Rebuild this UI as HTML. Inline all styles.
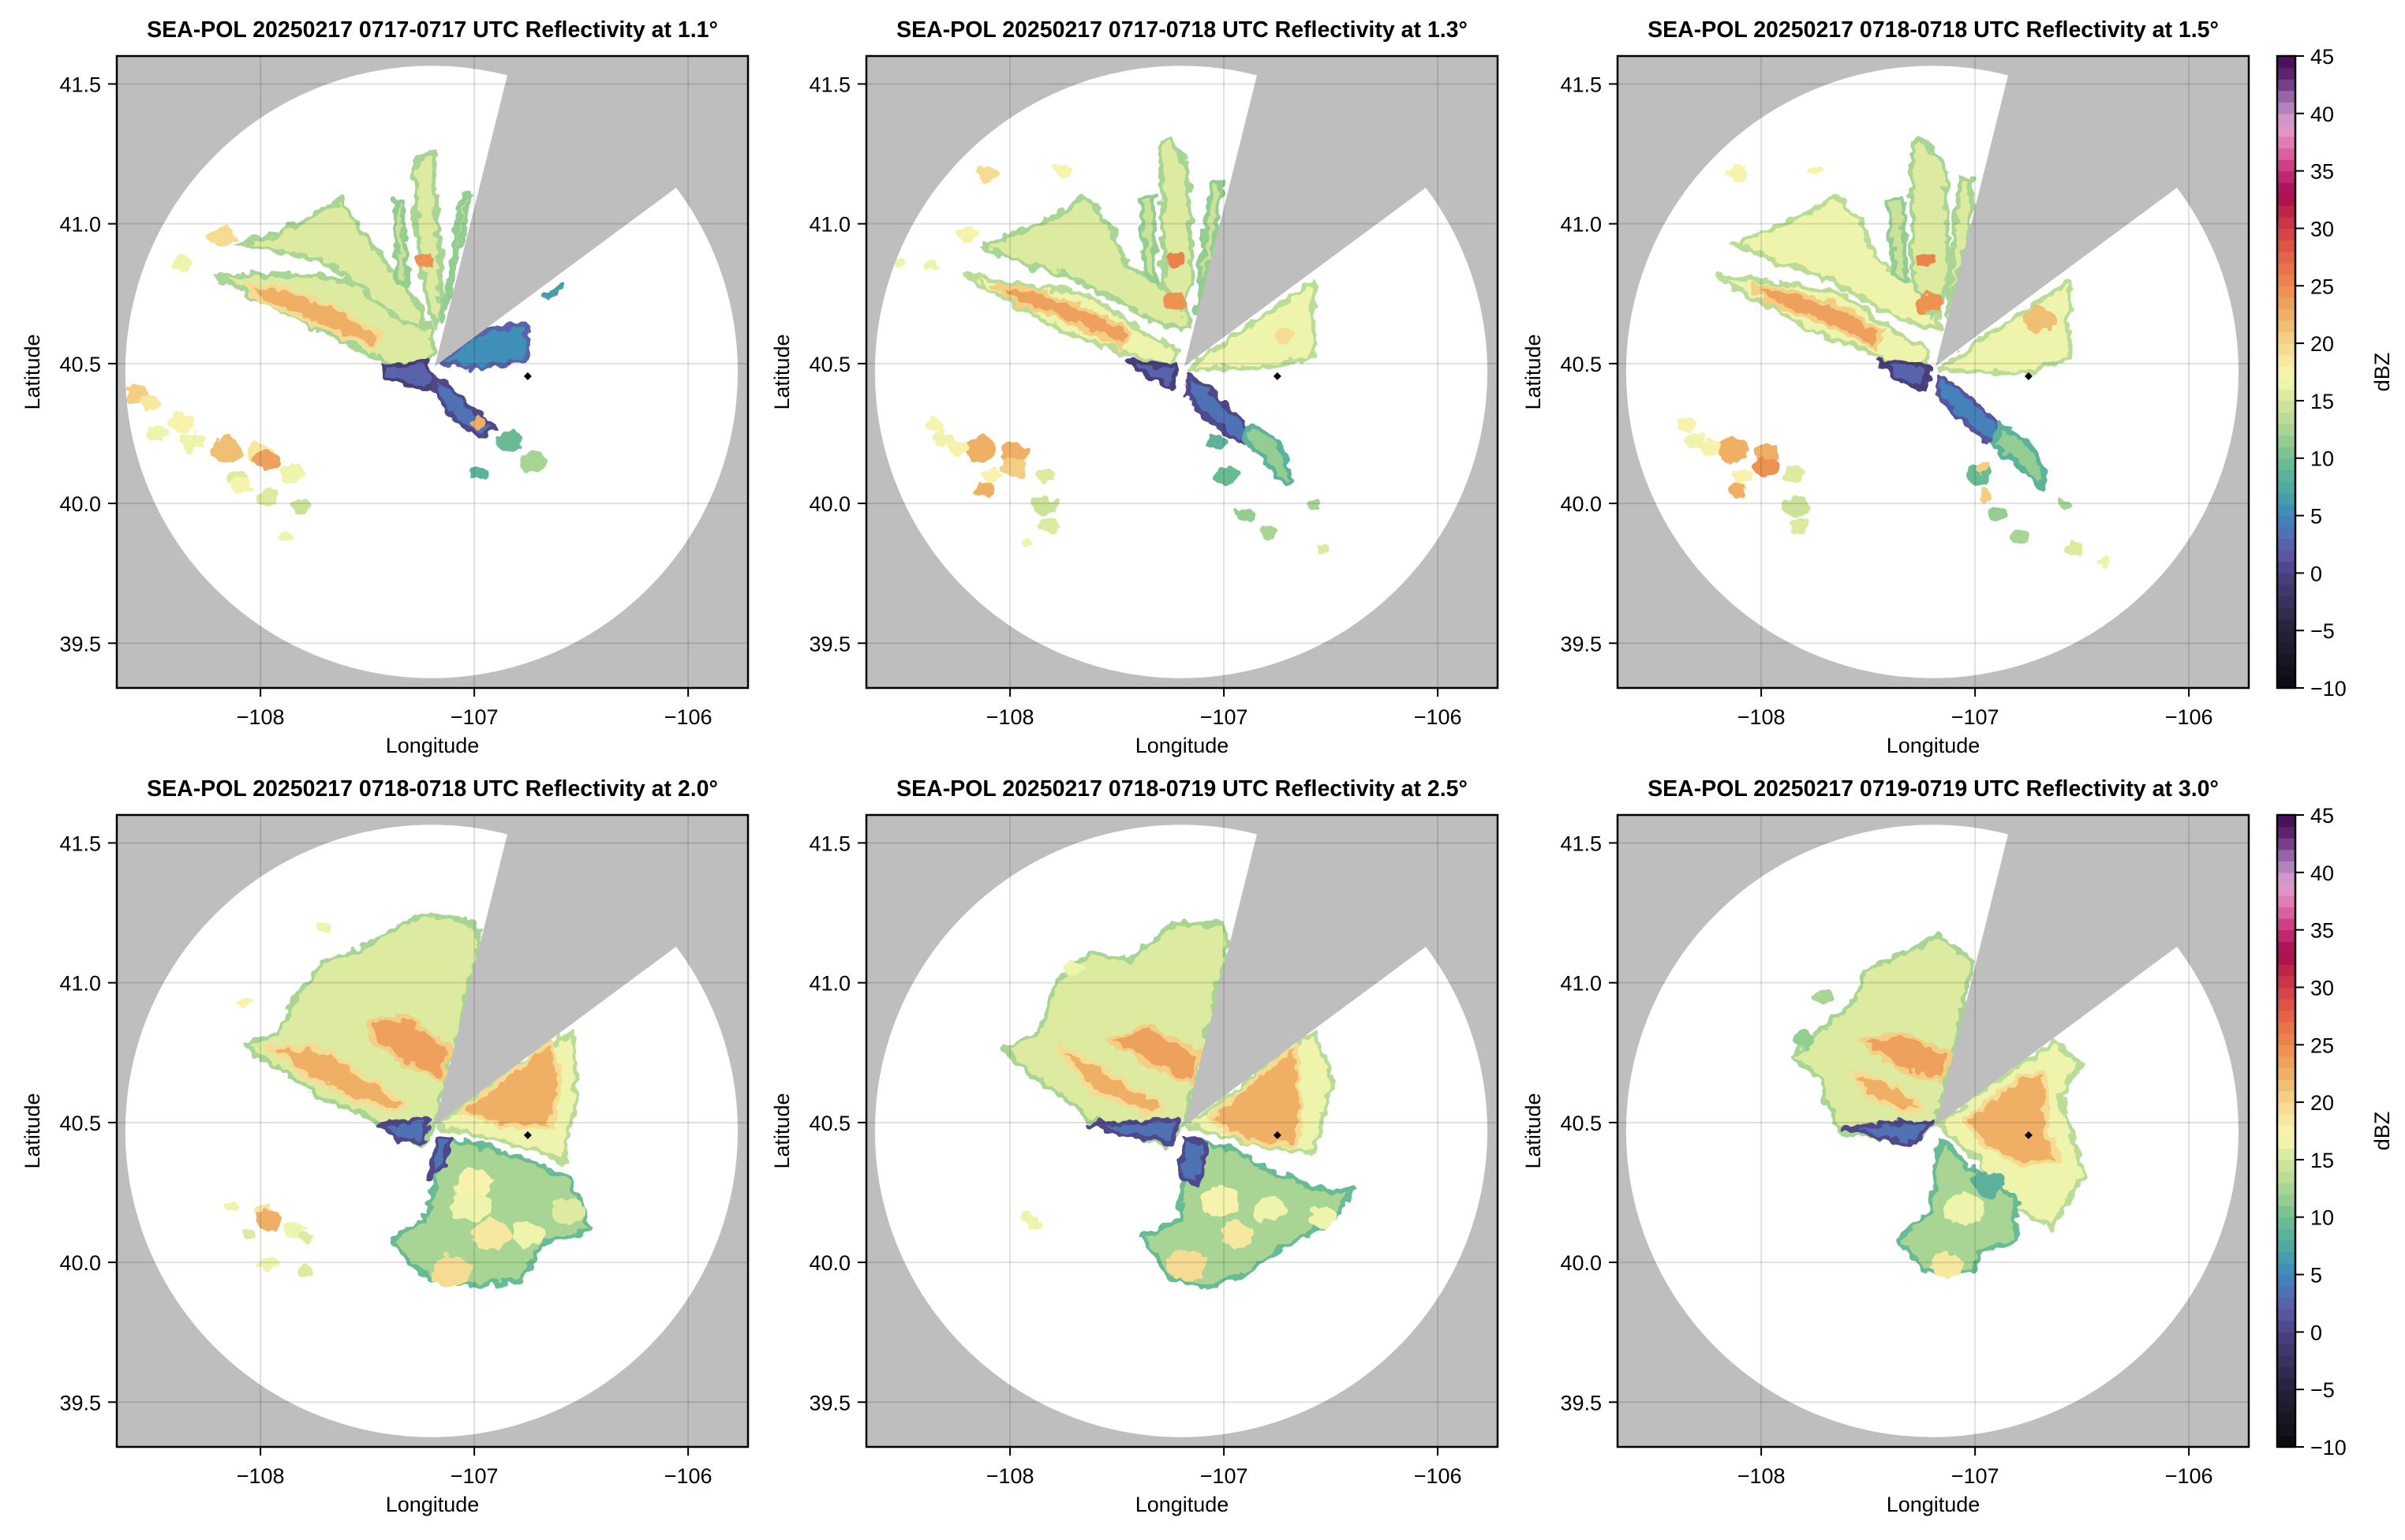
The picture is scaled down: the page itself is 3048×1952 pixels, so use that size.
<!DOCTYPE html>
<html><head><meta charset="utf-8"><title>SEA-POL Reflectivity</title>
<style>
html,body{margin:0;padding:0;background:#fff}
svg{display:block}
text{font-family:"Liberation Sans",Arial,sans-serif;fill:#000}
</style></head>
<body>
<svg id="fig" xmlns="http://www.w3.org/2000/svg" width="3048" height="1952" viewBox="0 0 3048 1952">
<defs>
<filter id="rag" x="-20%" y="-20%" width="140%" height="140%">
<feTurbulence type="fractalNoise" baseFrequency="0.07" numOctaves="2" seed="3" result="n"/>
<feDisplacementMap in="SourceGraphic" in2="n" scale="16" xChannelSelector="R" yChannelSelector="G"/>
</filter>
</defs>
</svg>
<script>
// ---- axis extents ----
const lonMin=-108.672, lonMax=-105.72, latMin=39.34, latMax=41.6;
const xTicks=[-108,-107,-106];
const xTickLabels=["\u2212108","\u2212107","\u2212106"];
const yTicks=[39.5,40.0,40.5,41.0,41.5];
const yTickLabels=["39.5","40.0","40.5","41.0","41.5"];
const cbTicks=[-10,-5,0,5,10,15,20,25,30,35,40,45];
const cbTickLabels=["\u221210","\u22125","0","5","10","15","20","25","30","35","40","45"];
const titles=[
"SEA-POL 20250217 0717-0717 UTC Reflectivity at 1.1\u00b0",
"SEA-POL 20250217 0717-0718 UTC Reflectivity at 1.3\u00b0",
"SEA-POL 20250217 0718-0718 UTC Reflectivity at 1.5\u00b0",
"SEA-POL 20250217 0718-0718 UTC Reflectivity at 2.0\u00b0",
"SEA-POL 20250217 0718-0719 UTC Reflectivity at 2.5\u00b0",
"SEA-POL 20250217 0719-0719 UTC Reflectivity at 3.0\u00b0"];
// radar coverage
const coverCenter=[-107.20,40.47];
const coverRadiusDeg=[1.432,1.095];
const radarApex=[-107.185,40.49];
const blockedAz=[14,53.5];
const siteMarker=[-106.75,40.455];

// ---- panel 1 (1.1) ----
const p1ShapeDbz=[15,22,15,15,14,14,5,9,2,3];
const p1Shapes=[
[[-108.21,40.82],[-107.81,40.82],[-107.57,40.79],[-107.43,40.72],[-107.22,40.65],[-107.19,40.54],[-107.27,40.46],[-107.43,40.51],[-107.69,40.61],[-107.85,40.67],[-108.11,40.77]],
[[-108.07,40.78],[-107.90,40.77],[-107.62,40.69],[-107.43,40.60],[-107.48,40.56],[-107.71,40.63],[-108.00,40.73]],
[[-108.11,40.93],[-107.90,40.97],[-107.71,41.05],[-107.62,41.09],[-107.52,40.96],[-107.38,40.83],[-107.27,40.72],[-107.22,40.63],[-107.34,40.65],[-107.52,40.76],[-107.71,40.87],[-107.90,40.90]],
[[-107.28,41.23],[-107.19,41.26],[-107.17,40.99],[-107.15,40.69],[-107.19,40.63],[-107.24,40.79],[-107.27,40.99]],
[[-107.05,41.11],[-107.02,41.11],[-107.10,40.79],[-107.15,40.65]],
[[-107.37,41.08],[-107.34,41.08],[-107.31,40.79],[-107.36,40.79]],
[[-107.15,40.51],[-107.01,40.60],[-106.88,40.63],[-106.75,40.64],[-106.76,40.51],[-107.03,40.48]],
[[-106.68,40.74],[-106.59,40.78],[-106.59,40.77],[-106.66,40.73]],
[[-107.43,40.49],[-107.22,40.51],[-107.19,40.42],[-107.27,40.41],[-107.41,40.46]],
[[-107.19,40.45],[-107.10,40.41],[-107.01,40.33],[-106.90,40.27],[-106.96,40.24],[-107.08,40.29],[-107.17,40.38]]];
const p1CellLon=[-106.84,-106.72,-106.97,-108.57,-108.51,-108.37,-108.32,-108.16,-108.00,-107.97,-108.11,-107.85,-107.81,-107.97,-108.48,-108.09,-107.88,-108.18,-108.37,-107.23,-106.98];
const p1CellLat=[40.22,40.15,40.11,40.39,40.36,40.29,40.22,40.19,40.18,40.15,40.09,40.11,39.99,40.02,40.25,40.06,39.88,40.96,40.86,40.87,40.29];
const p1CellDbz=[9,12,8,20,18,17,16,21,18,23,15,16,14,15,16,17,16,19,16,24,22];
const p1CellKm=[4,4,3,4,3,4,4,5,4,4,3,4,3,3,3,3,2,4,3,3,2];

// ---- panel 2 (1.3) ----
const p2ShapeDbz=[16,23,15,15,14,14,16,2,3,11];
const p2Shapes=[
[[-108.21,40.82],[-108.05,40.79],[-107.83,40.77],[-107.62,40.74],[-107.39,40.62],[-107.22,40.55],[-107.24,40.49],[-107.35,40.51],[-107.54,40.56],[-107.77,40.62],[-107.92,40.69],[-108.11,40.77]],
[[-108.07,40.78],[-107.88,40.76],[-107.62,40.69],[-107.43,40.61],[-107.47,40.56],[-107.69,40.64],[-107.96,40.72]],
[[-108.13,40.92],[-107.92,40.98],[-107.73,41.05],[-107.65,41.10],[-107.54,41.00],[-107.45,40.85],[-107.32,40.79],[-107.17,40.74],[-107.17,40.62],[-107.35,40.66],[-107.54,40.74],[-107.73,40.82],[-107.92,40.85]],
[[-107.30,41.29],[-107.25,41.30],[-107.17,41.21],[-107.15,40.79],[-107.20,40.68],[-107.28,40.79],[-107.29,41.17]],
[[-107.06,41.14],[-107.01,41.15],[-107.05,40.91],[-107.13,40.68]],
[[-107.39,41.09],[-107.33,41.10],[-107.32,40.79],[-107.37,40.82]],
[[-107.17,40.48],[-106.98,40.59],[-106.79,40.68],[-106.58,40.79],[-106.58,40.52],[-106.83,40.49]],
[[-107.45,40.51],[-107.22,40.49],[-107.24,40.42],[-107.35,40.45]],
[[-107.18,40.46],[-107.07,40.41],[-106.90,40.29],[-106.86,40.22],[-106.94,40.22],[-107.11,40.33],[-107.17,40.39]],
[[-106.88,40.28],[-106.75,40.23],[-106.68,40.09],[-106.71,40.07],[-106.81,40.16],[-106.90,40.22]]];
const p2CellLon=[-106.98,-106.58,-106.90,-106.79,-106.54,-107.03,-108.35,-108.31,-108.14,-107.98,-107.98,-108.09,-108.11,-107.84,-107.84,-107.82,-107.92,-108.24,-108.11,-107.75,-108.20,-108.37,-108.52,-107.23,-107.22,-106.72];
const p2CellLat=[40.10,40.00,39.96,39.90,39.84,40.22,40.28,40.23,40.19,40.18,40.13,40.10,40.05,40.10,39.99,39.92,39.86,40.20,41.18,41.19,40.96,40.85,40.86,40.87,40.72,40.60];
const p2CellDbz=[9,12,11,12,15,8,17,16,22,22,20,17,22,15,14,15,16,17,19,17,17,16,16,25,24,19];
const p2CellKm=[4,2,3,3,2,3,3,3,5,4,4,3,3,3,4,3,2,3,3,3,3,2,2,3,4,3];

// ---- panel 3 (1.5) ----
const p3ShapeDbz=[16,23,16,15,15,14,16,2,4,11];
const p3Shapes=[
[[-108.21,40.82],[-108.05,40.80],[-107.83,40.78],[-107.62,40.75],[-107.39,40.62],[-107.22,40.55],[-107.24,40.48],[-107.37,40.50],[-107.56,40.56],[-107.79,40.62],[-107.94,40.70],[-108.13,40.77]],
[[-108.05,40.78],[-107.86,40.76],[-107.60,40.69],[-107.43,40.61],[-107.47,40.56],[-107.69,40.64],[-107.96,40.72]],
[[-108.13,40.93],[-107.92,40.99],[-107.73,41.06],[-107.65,41.10],[-107.54,41.01],[-107.45,40.86],[-107.32,40.80],[-107.17,40.74],[-107.17,40.62],[-107.35,40.66],[-107.54,40.74],[-107.73,40.82],[-107.92,40.86]],
[[-107.30,41.29],[-107.25,41.30],[-107.14,41.22],[-107.12,40.79],[-107.20,40.66],[-107.29,40.79],[-107.30,41.17]],
[[-107.07,41.16],[-107.01,41.16],[-107.04,40.91],[-107.13,40.68]],
[[-107.41,41.09],[-107.34,41.10],[-107.32,40.79],[-107.38,40.82]],
[[-107.17,40.48],[-106.79,40.68],[-106.56,40.79],[-106.56,40.52],[-106.79,40.46]],
[[-107.45,40.51],[-107.22,40.49],[-107.24,40.41],[-107.37,40.45]],
[[-107.18,40.46],[-107.07,40.41],[-106.90,40.29],[-106.86,40.22],[-106.94,40.22],[-107.11,40.33],[-107.17,40.39]],
[[-106.88,40.28],[-106.75,40.22],[-106.66,40.08],[-106.70,40.06],[-106.81,40.15],[-106.92,40.21]]];
const p3CellLon=[-106.98,-106.58,-106.90,-106.79,-106.54,-106.40,-108.35,-108.31,-108.14,-107.98,-107.98,-108.09,-108.11,-107.84,-107.84,-107.82,-108.24,-108.11,-107.75,-107.23,-107.22,-106.70,-106.95,-106.96];
const p3CellLat=[40.10,40.00,39.96,39.88,39.84,39.79,40.28,40.23,40.19,40.18,40.13,40.10,40.05,40.10,39.99,39.92,40.20,41.18,41.19,40.87,40.72,40.66,40.03,40.13];
const p3CellDbz=[9,12,11,12,15,16,17,16,22,22,24,17,22,15,14,15,17,17,17,25,24,21,20,20];
const p3CellKm=[4,2,3,3,3,2,3,3,5,4,4,3,3,3,4,3,3,3,2,3,4,5,2,2];

// ---- panel 4 (2.0) ----
const p4ShapeDbz=[15,23,22,3,16,22,12,3];
const p4Shapes=[
[[-108.07,40.78],[-107.92,40.82],[-107.82,40.97],[-107.69,41.08],[-107.50,41.13],[-107.30,41.23],[-107.18,41.24],[-107.00,41.21],[-106.97,41.15],[-107.17,40.54],[-107.24,40.42],[-107.35,40.45],[-107.54,40.54],[-107.73,40.59],[-107.88,40.68],[-108.01,40.74]],
[[-107.50,40.87],[-107.32,40.88],[-107.11,40.77],[-107.15,40.65],[-107.32,40.71],[-107.47,40.79]],
[[-107.96,40.77],[-107.73,40.77],[-107.50,40.66],[-107.32,40.56],[-107.37,40.54],[-107.58,40.59],[-107.82,40.69]],
[[-107.45,40.49],[-107.22,40.51],[-107.24,40.43],[-107.35,40.44]],
[[-107.17,40.49],[-106.98,40.61],[-106.79,40.71],[-106.54,40.82],[-106.52,40.59],[-106.58,40.36],[-106.79,40.42],[-106.98,40.45]],
[[-107.07,40.54],[-106.88,40.65],[-106.64,40.79],[-106.60,40.68],[-106.64,40.48],[-106.88,40.49]],
[[-107.16,40.44],[-106.98,40.42],[-106.79,40.38],[-106.56,40.30],[-106.45,40.12],[-106.68,40.07],[-106.79,39.93],[-106.98,39.92],[-107.15,39.93],[-107.28,39.98],[-107.38,40.08],[-107.22,40.17],[-107.18,40.30]],
[[-107.18,40.45],[-107.10,40.44],[-107.15,40.35],[-107.21,40.30],[-107.19,40.38]]];
const p4CellLon=[-107.00,-107.02,-106.92,-107.11,-106.75,-106.56,-107.98,-107.96,-107.84,-108.05,-107.79,-107.96,-107.79,-108.14,-107.71,-108.08];
const p4CellLat=[40.28,40.20,40.10,39.97,40.10,40.18,40.18,40.15,40.12,40.10,40.09,40.00,39.97,40.20,41.20,40.93];
const p4CellDbz=[17,16,18,19,16,15,18,22,16,15,15,16,15,16,16,17];
const p4CellKm=[6,6,6,6,5,5,3,4,3,2,2,3,2,2,2,2];

// ---- panel 5 (2.5) ----
const p5ShapeDbz=[15,23,22,3,16,22,12,3];
const p5Shapes=[
[[-108.03,40.77],[-107.86,40.82],[-107.79,41.00],[-107.62,41.11],[-107.45,41.08],[-107.24,41.21],[-107.01,41.21],[-106.98,41.14],[-107.17,40.52],[-107.26,40.42],[-107.45,40.46],[-107.62,40.51],[-107.81,40.62],[-107.96,40.71]],
[[-107.54,40.79],[-107.35,40.85],[-107.11,40.74],[-107.15,40.64],[-107.35,40.71]],
[[-107.77,40.77],[-107.54,40.68],[-107.28,40.56],[-107.35,40.53],[-107.62,40.61]],
[[-107.62,40.49],[-107.22,40.51],[-107.24,40.43],[-107.39,40.45]],
[[-107.17,40.49],[-106.98,40.59],[-106.79,40.71],[-106.58,40.82],[-106.49,40.66],[-106.58,40.39],[-106.79,40.41]],
[[-107.07,40.51],[-106.88,40.64],[-106.66,40.78],[-106.64,40.59],[-106.66,40.42],[-106.86,40.43]],
[[-107.16,40.44],[-106.98,40.41],[-106.79,40.33],[-106.51,40.25],[-106.40,40.26],[-106.49,40.15],[-106.71,40.06],[-106.90,39.96],[-107.07,39.91],[-107.26,39.95],[-107.38,40.09],[-107.20,40.16],[-107.19,40.33]],
[[-107.18,40.45],[-107.08,40.42],[-107.12,40.28],[-107.21,40.31]]];
const p5CellLon=[-107.02,-107.17,-106.79,-106.54,-106.94,-107.92,-107.88,-107.50,-107.70];
const p5CellLat=[40.22,39.99,40.19,40.16,40.10,40.16,40.13,40.97,41.05];
const p5CellDbz=[17,19,16,16,18,16,16,15,16];
const p5CellKm=[6,6,5,4,5,3,2,3,3];

// ---- panel 6 (3.0) ----
const p6ShapeDbz=[15,23,22,3,16,22,12];
const p6Shapes=[
[[-107.86,40.74],[-107.69,40.85],[-107.58,40.92],[-107.50,41.05],[-107.35,41.10],[-107.17,41.17],[-107.05,41.10],[-107.01,41.07],[-107.17,40.52],[-107.28,40.42],[-107.47,40.45],[-107.62,40.46],[-107.69,40.56],[-107.73,40.66]],
[[-107.54,40.79],[-107.35,40.82],[-107.11,40.74],[-107.15,40.65],[-107.35,40.69]],
[[-107.58,40.68],[-107.43,40.66],[-107.24,40.55],[-107.32,40.54],[-107.50,40.59]],
[[-107.62,40.48],[-107.20,40.51],[-107.28,40.42],[-107.45,40.45]],
[[-107.17,40.49],[-106.98,40.61],[-106.79,40.71],[-106.62,40.79],[-106.51,40.71],[-106.60,40.59],[-106.49,40.32],[-106.64,40.12],[-106.79,40.19],[-106.88,40.16],[-106.98,40.36]],
[[-107.05,40.51],[-106.79,40.66],[-106.68,40.68],[-106.66,40.45],[-106.60,40.36],[-106.79,40.35],[-106.94,40.41]],
[[-107.16,40.44],[-107.01,40.33],[-106.81,40.23],[-106.81,40.08],[-106.98,40.04],[-107.01,39.97],[-107.22,39.97],[-107.36,40.08],[-107.20,40.19],[-107.19,40.33]]];
const p6CellLon=[-107.05,-107.13,-106.94,-107.80,-107.70];
const p6CellLat=[40.19,39.99,40.28,40.80,40.95];
const p6CellDbz=[16,18,8,11,12];
const p6CellKm=[6,5,5,3,3];

// ---- colormap ----
const cmapVals=[-10,-5,0,2,5,7,10,12,15,17,19,22,25,28,31,33,35,37,39,41,43,45];
const cmapCols=["#0b0a0d","#27213a","#4a4282","#5e5ba8","#3f88bf","#48a4a4","#6ebf8f","#a0d293","#d4e69a","#f8f8b2","#f6e39a","#f0b86b","#ec8a4c","#e35c46","#c72d4a","#a40b4e","#c8307a","#e070aa","#e3a0d0","#a379b7","#6a2a7a","#3f0a52"];

const NS="http://www.w3.org/2000/svg";
const svg=document.getElementById('fig');
function mk(tag,attrs,parent){const e=document.createElementNS(NS,tag);for(const k in attrs)e.setAttribute(k,attrs[k]);(parent||svg).appendChild(e);return e;}
function hex2rgb(h){return [parseInt(h.substr(1,2),16),parseInt(h.substr(3,2),16),parseInt(h.substr(5,2),16)];}
function color(v){v=Math.floor(v)+0.5;if(v<=cmapVals[0])return cmapCols[0];for(let i=1;i<cmapVals.length;i++){if(v<=cmapVals[i]){const t=(v-cmapVals[i-1])/(cmapVals[i]-cmapVals[i-1]);const a=hex2rgb(cmapCols[i-1]),b=hex2rgb(cmapCols[i]);return 'rgb('+a.map((c,j)=>Math.round(c+(b[j]-c)*t)).join(',')+')';}}return cmapCols[cmapCols.length-1];}

const PW=800,PH=801;
const panelPos=[[148,71],[1098,71],[2050,71],[148,1033],[1098,1033],[2050,1033]];
const shapeSets=[p1Shapes,p2Shapes,p3Shapes,p4Shapes,p5Shapes,p6Shapes];
const shapeDbz=[p1ShapeDbz,p2ShapeDbz,p3ShapeDbz,p4ShapeDbz,p5ShapeDbz,p6ShapeDbz];
const cellSets=[[p1CellLon,p1CellLat,p1CellDbz,p1CellKm],[p2CellLon,p2CellLat,p2CellDbz,p2CellKm],[p3CellLon,p3CellLat,p3CellDbz,p3CellKm],[p4CellLon,p4CellLat,p4CellDbz,p4CellKm],[p5CellLon,p5CellLat,p5CellDbz,p5CellKm],[p6CellLon,p6CellLat,p6CellDbz,p6CellKm]];

panelPos.forEach((pp,pi)=>{
  const L=pp[0],T=pp[1];
  const X=lon=>L+(lon-lonMin)/(lonMax-lonMin)*PW;
  const Y=lat=>T+(latMax-lat)/(latMax-latMin)*PH;
  const g=mk('g',{});
  
  
  const pc='pclip'+pi;
  const pcp=mk('clipPath',{id:pc},g);
  mk('rect',{x:L,y:T,width:PW,height:PH},pcp);
  const inner=mk('g',{'clip-path':`url(#${pc})`},g);
  mk('rect',{x:L,y:T,width:PW,height:PH,fill:'#bebebe'},inner);
  // coverage circle
  const cx=X(coverCenter[0]),cy=Y(coverCenter[1]);
  const rx=X(coverCenter[0]+coverRadiusDeg[0])-cx, ry=cy-Y(coverCenter[1]+coverRadiusDeg[1]);
  const cid='clip'+pi;
  const cp=mk('clipPath',{id:cid},inner);
  mk('ellipse',{cx:cx,cy:cy,rx:rx,ry:ry},cp);
  const cov=mk('ellipse',{cx:cx,cy:cy,rx:rx,ry:ry,fill:'#ffffff'},inner);
  
  
  // data
  const dc=mk('g',{'clip-path':`url(#${cid})`},inner);
  const dg=mk('g',{filter:'url(#rag)'},dc);
  
  
  shapeSets[pi].forEach((pts,si)=>{
    const v=shapeDbz[pi][si];
    const d='M'+pts.map(p=>X(p[0]).toFixed(1)+','+Y(p[1]).toFixed(1)).join(' L')+' Z';
    const e=mk('path',{d:d,fill:color(v),stroke:color(v-3),'stroke-width':6,'stroke-linejoin':'round'},dg);
    
    
  });
  const cs=cellSets[pi];
  cs[0].forEach((lon,ci)=>{
    const r=cs[3][ci]*3.2;
    const e=mk('ellipse',{cx:X(lon),cy:Y(cs[1][ci]),rx:r*1.3,ry:r,fill:color(cs[2][ci])},dg);
    
    
  });
  // blocked sector (gray wedge)
  const ax=X(radarApex[0]),ay=Y(radarApex[1]);
  const a1=blockedAz[0]*Math.PI/180,a2=blockedAz[1]*Math.PI/180,R=rx*2;
  const wd=mk('path',{d:`M${ax},${ay} L${ax+R*Math.sin(a1)},${ay-R*Math.cos(a1)} L${ax+R*Math.sin(a2)},${ay-R*Math.cos(a2)} Z`,fill:'#bebebe'},inner);
  
  
  // grid
  xTicks.forEach(t=>{const l=mk('line',{x1:X(t),x2:X(t),y1:T,y2:T+PH,stroke:'rgba(0,0,0,0.12)','stroke-width':2},inner);});
  yTicks.forEach(t=>{const l=mk('line',{x1:L,x2:L+PW,y1:Y(t),y2:Y(t),stroke:'rgba(0,0,0,0.12)','stroke-width':2},inner);});
  // marker
  const mx=X(siteMarker[0]),my=Y(siteMarker[1]);
  const mkr=mk('path',{d:`M${mx},${my-5} L${mx+5},${my} L${mx},${my+5} L${mx-5},${my} Z`,fill:'#000'},inner);
  
  
  // frame
  const fr=mk('rect',{x:L,y:T,width:PW,height:PH,fill:'none',stroke:'#000','stroke-width':2.5},g);
  
  
  // ticks
  xTicks.forEach((t,i)=>{
    mk('line',{x1:X(t),x2:X(t),y1:T+PH,y2:T+PH+11,stroke:'#000','stroke-width':2},g);
    const tx=mk('text',{x:X(t),y:T+PH+46,'text-anchor':'middle','font-size':27},g);
    tx.textContent=xTickLabels[i];
    
    
  });
  yTicks.forEach((t,i)=>{
    mk('line',{x1:L-11,x2:L,y1:Y(t),y2:Y(t),stroke:'#000','stroke-width':2},g);
    const tx=mk('text',{x:L-20,y:Y(t)+10,'text-anchor':'end','font-size':27},g);
    tx.textContent=yTickLabels[i];
    
    
  });
  const xl=mk('text',{x:L+PW/2,y:T+PH+82,'text-anchor':'middle','font-size':27},g);
  xl.textContent='Longitude';
  
  
  const yl=mk('text',{x:0,y:0,'text-anchor':'middle','font-size':27,transform:`translate(${L-98},${T+PH/2}) rotate(-90)`},g);
  yl.textContent='Latitude';
  
  
  const tt=mk('text',{x:L+PW/2,y:T-24,'text-anchor':'middle','font-size':28.5,'font-weight':'bold'},g);
  tt.textContent=titles[pi];
  
  
});

// colorbars
[71,1033].forEach((T,ri)=>{
  const L=2886,W=23,H=801;
  const g=mk('g',{});
  
  
  const vmin=cbTicks[0],vmax=cbTicks[cbTicks.length-1];
  const CY=v=>T+H-(v-vmin)/(vmax-vmin)*H;
  for(let v=vmin;v<vmax;v++){
    const r=mk('rect',{x:L,y:CY(v+1),width:W,height:CY(v)-CY(v+1)+0.6,fill:color(v)},g);
    
    
  }
  mk('rect',{x:L,y:T,width:W,height:H,fill:'none',stroke:'#000','stroke-width':2.5},g);
  cbTicks.forEach((t,i)=>{
    mk('line',{x1:L+W,x2:L+W+11,y1:CY(t),y2:CY(t),stroke:'#000','stroke-width':2},g);
    const tx=mk('text',{x:L+W+19,y:CY(t)+10,'font-size':27},g);
    tx.textContent=cbTickLabels[i];
    
    
  });
  const lb=mk('text',{x:0,y:0,'text-anchor':'middle','font-size':27,transform:`translate(3028,${T+H/2}) rotate(-90)`},g);
  lb.textContent='dBZ';
  
  
});
</script>
</body></html>
